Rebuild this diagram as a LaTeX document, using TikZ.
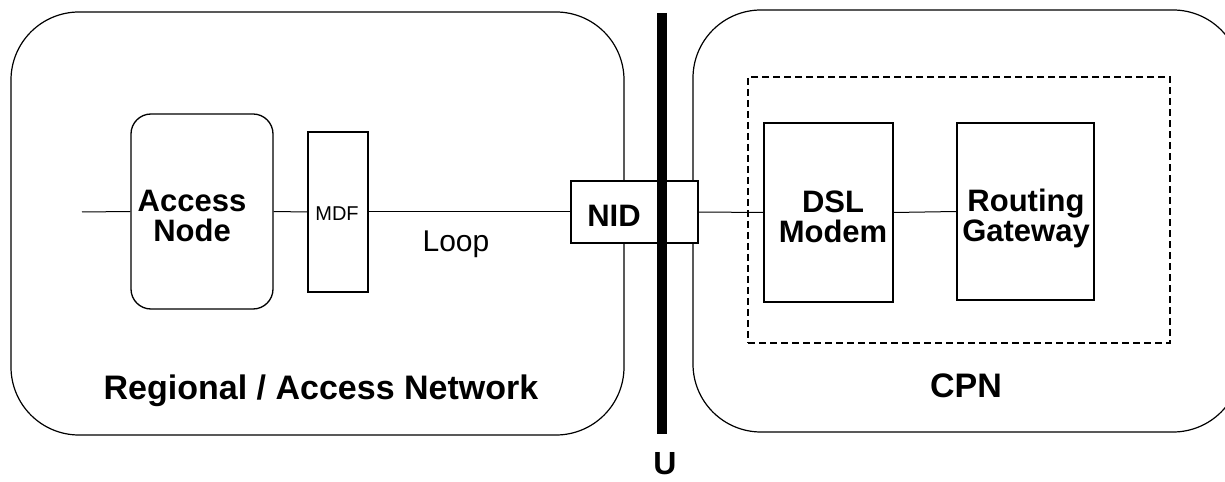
\documentclass[tikz,border=0pt]{standalone}
\usepackage{fontspec}
\setmainfont{Liberation Sans}
\begin{document}
\begin{tikzpicture}[x=1bp,y=-1bp,
  region/.style={draw, rectangle, rounded corners=68bp, line width=1.2bp, inner sep=0pt},
  box/.style={draw, rectangle, line width=1.3bp, inner sep=0pt, fill=white},
  wire/.style={line width=1bp},
  lbl/.style={font=\bfseries\fontsize{31bp}{30bp}\selectfont, align=center, inner sep=0pt},
  big/.style={font=\bfseries\fontsize{34bp}{36bp}\selectfont, inner sep=0pt},
  plain/.style={inner sep=0pt}
]
\useasboundingbox (0,0) rectangle (1225,482);
\clip (0,0) rectangle (1225,482);

% regions
\node[region, minimum width=613bp, minimum height=423bp] (ran) at (317.5,223.5) {};
\node[region, minimum width=548bp, minimum height=422bp] (cpn) at (967,221) {};
\node[draw, dash pattern=on 7bp off 4bp, line width=1.3bp, minimum width=422bp, minimum height=266bp, inner sep=0pt] (home) at (959,210) {};

% boxes
\node[box, rounded corners=20bp, minimum width=142bp, minimum height=195bp] (an) at (202,211.5) {};
\node[box, minimum width=60bp, minimum height=160bp] (mdf) at (338,212) {};
\node[box, minimum width=127bp, minimum height=62bp] (nid) at (634.5,212) {};
\node[box, minimum width=129bp, minimum height=179bp] (dsl) at (828.5,212.5) {};
\node[box, minimum width=137bp, minimum height=177bp] (rg) at (1025.5,211.5) {};

% connectors
\coordinate (in) at (82,212);
\draw[wire] (in) -- (an.west);
\draw[wire] (an.east) -- (mdf.west);
\draw[wire] (mdf.east) -- (nid.west);
\draw[wire] (nid.east) -- (dsl.west);
\draw[wire] (dsl.east) -- (rg.west);

% U interface bar
\coordinate (utop) at (662,13);
\coordinate (ubot) at (662,434);
\draw[line width=10bp] (utop) -- (ubot);

% labels
\node[lbl] (antext) at (192,216) {Access\\Node};
\node[lbl] (dsltext) at (833,217) {DSL\\Modem};
\node[lbl] (rgtext) at (1026,218) {Routing\\Gateway};
\node[lbl, anchor=base] (nidtext) at (614,227) {NID};
\node[plain, font=\fontsize{20bp}{22bp}\selectfont, anchor=base] (mdftext) at (337,221) {MDF};
\node[plain, font=\fontsize{30bp}{32bp}\selectfont, anchor=base] (looptext) at (456,252) {Loop};
\node[big, anchor=base] (rantext) at (321,399) {Regional / Access Network};
\node[big, anchor=base] (cpntext) at (966,397) {CPN};
\node[plain, font=\bfseries\fontsize{32bp}{34bp}\selectfont, anchor=base] (utext) at (665,474) {U};
\end{tikzpicture}
\end{document}
